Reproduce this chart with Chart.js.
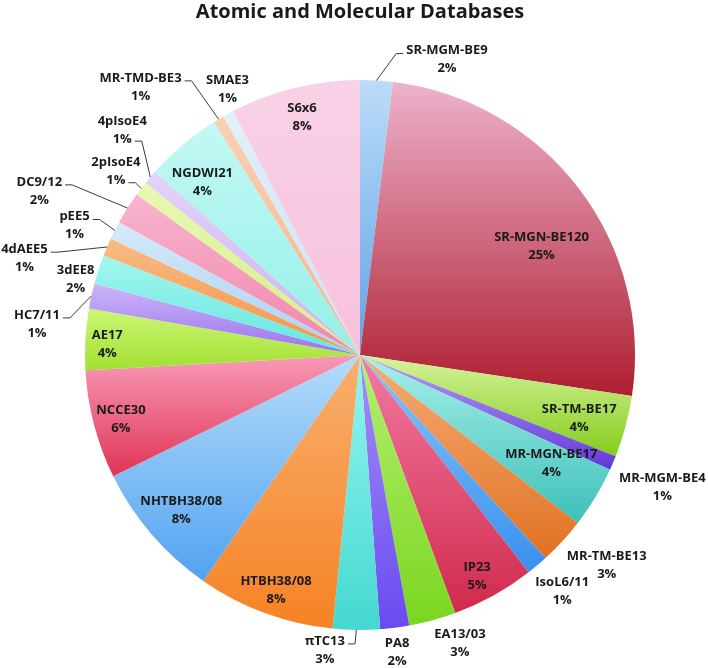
<!DOCTYPE html>
<html>
<head>
<meta charset="utf-8">
<script src="https://cdn.jsdelivr.net/npm/chart.js@4"></script>
<style>
  html, body { margin: 0; padding: 0; background: #ffffff; }
  #wrap { width: 708px; height: 668px; }
</style>
</head>
<body>
<div id="wrap"><canvas id="chart1"></canvas></div>
<script>
// databases (clockwise from 12 o'clock) and their sizes
var nombres = ['SR-MGM-BE9', 'SR-MGN-BE120', 'SR-TM-BE17', 'MR-MGM-BE4', 'MR-MGN-BE17',
    'MR-TM-BE13', 'IsoL6/11', 'IP23', 'EA13/03', 'PA8', '\u03c0TC13', 'HTBH38/08',
    'NHTBH38/08', 'NCCE30', 'AE17', 'HC7/11', '3dEE8', '4dAEE5', 'pEE5', 'DC9/12',
    '2pIsoE4', '4pIsoE4', 'NGDWI21', 'MR-TMD-BE3', 'SMAE3', 'S6x6'];
var cantidades = [9, 120, 17, 4, 17, 13, 6, 23, 13, 8, 13, 38, 38, 30, 17, 7, 8, 5, 5, 9, 4, 4, 21, 3, 3, 36];

// top / bottom colour of each slice gradient
var colorArriba = ['#bcdcf8', '#eeb2cc', '#d4f49c', '#b4a0f4', '#a8f0ea', '#f6ac74', '#88c4f8', '#f27aa2',
    '#b4f070', '#a490f6', '#94f6f0', '#f8b070', '#b4dcfa', '#f89ab8', '#ccf676', '#ccb6f8', '#a4f6f0',
    '#f8bc86', '#d4eaf8', '#f8b4ce', '#e8f8b4', '#e2d4f8', '#c4f8f4', '#f8d2b4', '#e2f0fa', '#f8d2e6'];
var colorAbajo = ['#5ea2e8', '#ae1e30', '#86cc1c', '#6238d8', '#3cc0b8', '#e07222', '#3a90ee', '#d02a4c',
    '#7ad620', '#6a4af0', '#44d8d0', '#f68224', '#52a2f0', '#e03454', '#a2e032', '#9a72ee', '#62e6de',
    '#f69242', '#aad0f6', '#f084aa', '#d2f082', '#cab2f0', '#92f0e8', '#f6b28a', '#c8e2f6', '#f8c0dc'];

// label placement: [angle in degrees from 12 o'clock, radius factor, leader attach]
var etiquetas = [
    [16.4, 1.12, 'L0'], [59, 0.77], [106.2, 0.83], [113.6, 1.20], [119.6, 0.80],
    [130.5, 1.18], [139.4, 1.13], [152.1, 0.91], [160.9, 1.11], [172.9, 1.09],
    [186.8, 1.08, 'R0'], [199.6, 0.91], [229.1, 0.86], [255, 0.90], [272.5, 0.92],
    [275.5, 1.18, 'R0'], [284.9, 1.07], [286.1, 1.27, 'R0'], [294.4, 1.14, 'R0'], [297.1, 1.31, 'R0'],
    [306.9, 1.11, 'R1'], [313.4, 1.19, 'R1'], [317.6, 0.85], [320.7, 1.26, 'R0'], [333.5, 1.08],
    [346.3, 0.89]
];

var fuente = '"Open Sans", Lato, sans-serif';

function gradiente(context) {
    var chart = context.chart;
    var area = chart.chartArea;
    var i = context.dataIndex;
    if (!area) return colorAbajo[i];
    var cx = (area.left + area.right) / 2;
    var cy = (area.top + area.bottom) / 2;
    var r = Math.min(area.right - area.left, area.bottom - area.top) / 2;
    var vals = context.dataset.data;
    var total = 0, antes = 0;
    for (var k = 0; k < vals.length; k++) {
        total += vals[k];
        if (k < i) antes += vals[k];
    }
    var a0 = -Math.PI / 2 + antes / total * 2 * Math.PI;
    var a1 = a0 + vals[i] / total * 2 * Math.PI;
    var ys = [cy, cy + r * Math.sin(a0), cy + r * Math.sin(a1)];
    [-Math.PI / 2, Math.PI / 2, 3 * Math.PI / 2].forEach(function (e) {
        if (e >= a0 && e <= a1) ys.push(cy + r * Math.sin(e));
    });
    var y0 = Math.min.apply(null, ys), y1 = Math.max.apply(null, ys);
    if (y1 - y0 < 1) y1 = y0 + 1;
    var g = chart.ctx.createLinearGradient(0, y0, 0, y1);
    g.addColorStop(0, colorArriba[i]);
    g.addColorStop(1, colorAbajo[i]);
    return g;
}

// draws the name / percent labels and the leader lines
const etiquetasPlugin = {
    id: 'etiquetasPie',
    afterDatasetsDraw: function (chart) {
        var ctx = chart.ctx;
        var meta = chart.getDatasetMeta(0);
        var total = cantidades.reduce(function (a, b) { return a + b; }, 0);
        ctx.save();
        ctx.font = 'bold 13px ' + fuente;
        ctx.fillStyle = '#1a1a1a';
        ctx.textAlign = 'center';
        ctx.textBaseline = 'middle';
        for (var i = 0; i < meta.data.length; i++) {
            var arc = meta.data[i].getProps(['x', 'y', 'startAngle', 'endAngle', 'outerRadius'], true);
            var conf = etiquetas[i];
            var ang = conf[0] * Math.PI / 180;
            var lx = arc.x + Math.sin(ang) * arc.outerRadius * conf[1];
            var ly = arc.y - Math.cos(ang) * arc.outerRadius * conf[1];
            var l1 = nombres[i];
            var l2 = Math.round(cantidades[i] / total * 100) + '%';
            ctx.fillText(l1, lx, ly - 9);
            ctx.fillText(l2, lx, ly + 9);

            if (conf[2]) {
                var mid = (arc.startAngle + arc.endAngle) / 2;
                var px = arc.x + Math.cos(mid) * arc.outerRadius;
                var py = arc.y + Math.sin(mid) * arc.outerRadius;
                var linea = conf[2][1] === '0' ? 0 : 1;
                var w = ctx.measureText(linea === 0 ? l1 : l2).width;
                var sy = linea === 0 ? ly - 6 : ly + 11;
                var sx, sx2;
                if (conf[2][0] === 'R') {
                    sx = lx + w / 2 + 3;
                    sx2 = sx + 7;
                } else {
                    sx = lx - w / 2 - 3;
                    sx2 = sx - 7;
                }
                ctx.beginPath();
                ctx.strokeStyle = '#3a3a3a';
                ctx.lineWidth = 1;
                ctx.moveTo(sx, sy);
                ctx.lineTo(sx2, sy);
                ctx.lineTo(px, py);
                ctx.stroke();
            }
        }
        ctx.restore();
    }
};

const dat = {
    labels: nombres,
    datasets: [{
        label: 'Databases',
        data: cantidades,
        backgroundColor: gradiente,
        borderWidth: 0
    }]
};

const config = {
    type: 'pie',
    data: dat,
    options: {
        responsive: false,
        animation: false,
        layout: {
            padding: { left: 85, right: 73, top: 0, bottom: 38 }
        },
        plugins: {
            legend: { display: false },
            tooltip: { enabled: false },
            title: {
                display: true,
                text: 'Atomic and Molecular Databases',
                color: '#1a1a1a',
                font: { family: fuente, size: 20, weight: 'bold', lineHeight: 1.2 },
                padding: { top: 0, bottom: 56 }
            }
        }
    },
    plugins: [etiquetasPlugin]
};

const canvas = document.getElementById('chart1');
canvas.width = 708;
canvas.height = 668;
const myChart = new Chart(canvas, config);
</script>
</body>
</html>
